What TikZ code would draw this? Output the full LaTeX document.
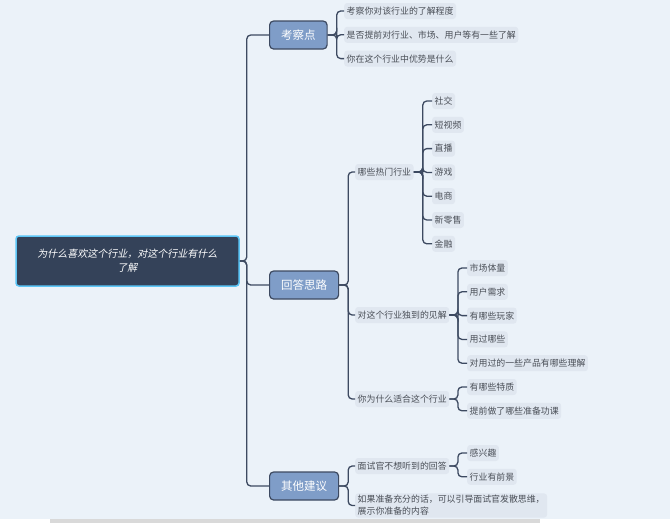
\documentclass[tikz,border=0pt]{standalone}
\usepackage{fontspec}
\setmainfont{Noto Sans CJK SC}
\newfontfamily\cjkslant[FakeSlant=0.2]{Noto Sans CJK SC}
\usepackage{tikz}
\usetikzlibrary{positioning}
\definecolor{bgblue}{HTML}{EBF2F9}
\definecolor{leaffill}{HTML}{E0E7F0}
\definecolor{leaftext}{HTML}{4A4F57}
\definecolor{linecol}{HTML}{3D4A61}
\definecolor{topicfill}{HTML}{7F9DC8}
\definecolor{rootfill}{HTML}{344259}
\definecolor{rootedge}{HTML}{5CC6F7}
\definecolor{barcol}{HTML}{D9D9D9}

\begin{document}
\begin{tikzpicture}[x=1pt, y=-1pt,
    leaf/.style={fill=leaffill, rounded corners=3pt, text=leaftext, anchor=west,
        font=\fontsize{8.9}{12}\selectfont, inner xsep=2.5pt, inner ysep=2pt, minimum height=16pt},
    topic/.style={fill=topicfill, draw=linecol, line width=1.2pt, rounded corners=4pt, text=white,
        anchor=west, font=\fontsize{11.5}{14}\selectfont, inner xsep=11.5pt, minimum height=28pt},
    root/.style={fill=rootfill, draw=rootedge, line width=1.5pt, rounded corners=3pt, text=white,
        align=center, font=\cjkslant\fontsize{10}{14}\selectfont, minimum width=223pt, minimum height=50pt},
    link/.style={draw=linecol, line width=1.3pt, rounded corners=4pt}]
    % canvas
    \useasboundingbox (0,0) rectangle (670,523);
    \fill[bgblue] (0,0) rectangle (670,519);
    \fill[white] (0,519) rectangle (670,523);
    \fill[barcol] (50,519) rectangle (540,523);

    % root and main topics
    \node[root] (why) at (127.5,261) {为什么喜欢这个行业，对这个行业有什么\\了解};
    \node[topic] (kao) at (269,35) {考察点};
    \node[topic] (hui) at (269,285) {回答思路};
    \node[topic] (qita) at (269,486) {其他建议};
    \foreach \t in {kao,hui,qita}
        \draw[link] (why.east) -- ++(7,0) |- (\t.west);

    % 考察点
    \foreach \txt [count=\i] in {考察你对该行业的了解程度, 是否提前对行业、市场、用户等有一些了解, 你在这个行业中优势是什么} {
        \node[leaf] (kao\i) at (344,{11+23.8*(\i-1)}) {\txt};
        \draw[link] (kao.east) -- ++(9,0) |- (kao\i.west);
    }

    % 回答思路
    \node[leaf] (hot) at (355,172) {哪些热门行业};
    \node[leaf] (view) at (355,315) {对这个行业独到的见解};
    \node[leaf] (fit) at (355,399) {你为什么适合这个行业};
    \foreach \t in {hot,view,fit}
        \draw[link] (hui.east) -- ++(9,0) |- (\t.west);

    \foreach \txt [count=\i] in {社交, 短视频, 直播, 游戏, 电商, 新零售, 金融} {
        \node[leaf] (hot\i) at (432,{101+23.8*(\i-1)}) {\txt};
        \draw[link] (hot.east) -- ++(9,0) |- (hot\i.west);
    }
    \foreach \txt [count=\i] in {市场体量, 用户需求, 有哪些玩家, 用过哪些, 对用过的一些产品有哪些理解} {
        \node[leaf] (view\i) at (467,{268+23.8*(\i-1)}) {\txt};
        \draw[link] (view.east) -- ++(8.5,0) |- (view\i.west);
    }
    \foreach \txt [count=\i] in {有哪些特质, 提前做了哪些准备功课} {
        \node[leaf] (fit\i) at (467,{387+23.8*(\i-1)}) {\txt};
        \draw[link] (fit.east) -- ++(8.5,0) |- (fit\i.west);
    }

    % 其他建议
    \node[leaf] (nogo) at (355,466) {面试官不想听到的回答};
    \node[leaf, align=left] (prep) at (355,505.5) {如果准备充分的话，可以引导面试官发散思维，\\展示你准备的内容};
    \foreach \t in {nogo,prep}
        \draw[link] (qita.east) -- ++(9,0) |- (\t.west);
    \foreach \txt [count=\i] in {感兴趣, 行业有前景} {
        \node[leaf] (nogo\i) at (467,{453+23.8*(\i-1)}) {\txt};
        \draw[link] (nogo.east) -- ++(8.5,0) |- (nogo\i.west);
    }
\end{tikzpicture}
\end{document}
